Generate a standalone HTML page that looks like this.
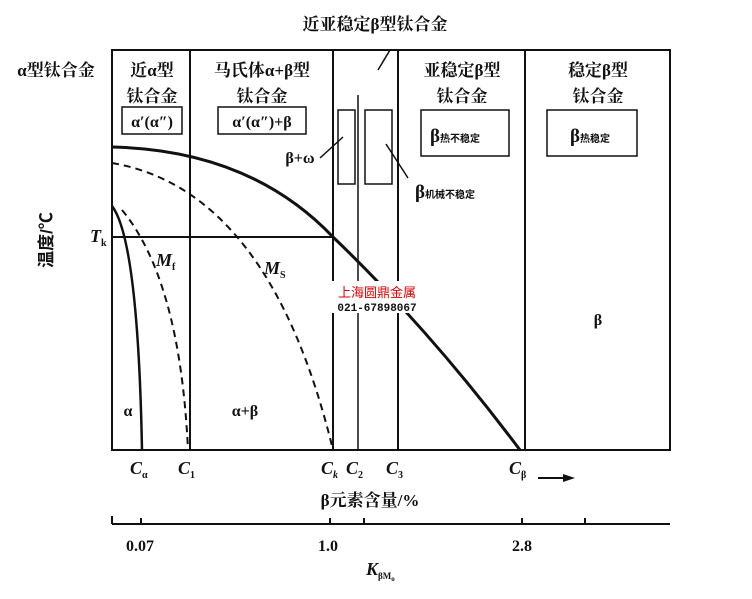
<!DOCTYPE html>
<html><head><meta charset="utf-8"><style>
body{margin:0;background:#fff}
svg text{font-family:"Liberation Serif","Noto Serif CJK SC","Noto Sans CJK SC",serif;fill:#111}
.c{font-family:"Liberation Sans","Noto Sans CJK SC",sans-serif;font-weight:bold}
</style></head><body>
<svg width="752" height="594" viewBox="0 0 752 594" xmlns="http://www.w3.org/2000/svg">
<g stroke="#111" fill="none" stroke-width="2">
<rect x="112" y="50" width="558" height="400"/>
<line x1="190" y1="50" x2="190" y2="450"/>
<line x1="333" y1="50" x2="333" y2="450"/>
<line x1="398" y1="50" x2="398" y2="450"/>
<line x1="525" y1="50" x2="525" y2="450"/>
<line x1="358" y1="95" x2="358" y2="450" stroke-width="1.5"/>
<rect x="338" y="110" width="17" height="74" stroke-width="1.5"/>
<rect x="365" y="110" width="27" height="74" stroke-width="1.5"/>
<rect x="122" y="107" width="60" height="27" stroke-width="1.5"/>
<rect x="218" y="107" width="88" height="27" stroke-width="1.5"/>
<rect x="421" y="110" width="88" height="46" stroke-width="1.5"/>
<rect x="547" y="110" width="90" height="46" stroke-width="1.5"/>
<line x1="112" y1="237" x2="333" y2="237"/>
<path d="M112 147 Q250 150 333 237 Q430 330 520 450" stroke-width="3"/>
<path d="M112 206 Q138 240 142 450" stroke-width="2.5"/>
<path d="M112 163 Q270 190 333 450" stroke-dasharray="7,5"/>
<path d="M122 210 Q180 280 188 450" stroke-dasharray="7,5"/>
<line x1="390" y1="50" x2="378" y2="70" stroke-width="1.5"/>
<line x1="320" y1="158" x2="343" y2="137" stroke-width="1.5"/>
<line x1="386" y1="144" x2="408" y2="178" stroke-width="1.5"/>
<line x1="112" y1="450" x2="670" y2="450"/>
<line x1="112" y1="524" x2="670" y2="524"/>
<line x1="112" y1="516" x2="112" y2="524"/>
<line x1="141" y1="518" x2="141" y2="524"/>
<line x1="330" y1="518" x2="330" y2="524"/>
<line x1="364" y1="518" x2="364" y2="524"/>
<line x1="522" y1="518" x2="522" y2="524"/>
<line x1="585" y1="518" x2="585" y2="524"/>
<line x1="538" y1="478" x2="565" y2="478"/>
</g>
<polygon points="563,474 575,478 563,482" fill="#111"/>
<g class="c" font-size="17" text-anchor="middle">
<text x="56" y="76">α型钛合金</text>
<text x="152" y="76">近α型</text>
<text x="152" y="102">钛合金</text>
<text x="262" y="76">马氏体α+β型</text>
<text x="262" y="102">钛合金</text>
<text x="375" y="30">近亚稳定β型钛合金</text>
<text x="462" y="76">亚稳定β型</text>
<text x="462" y="102">钛合金</text>
<text x="598" y="76">稳定β型</text>
<text x="598" y="102">钛合金</text>
<text x="370" y="506">β元素含量/%</text>
</g>
<g font-size="16" text-anchor="middle" font-weight="bold">
<text x="152" y="127">α′(α″)</text>
<text x="262" y="127">α′(α″)+β</text>
<text x="300" y="163">β+ω</text>
<text x="128" y="416">α</text>
<text x="245" y="416">α+β</text>
<text x="598" y="325">β</text>
<text x="140" y="551">0.07</text>
<text x="328" y="551">1.0</text>
<text x="522" y="551">2.8</text>
</g>
<g font-size="19" font-weight="bold">
<text x="430" y="142">β<tspan font-size="10" class="c">热不稳定</tspan></text>
<text x="570" y="142">β<tspan font-size="10" class="c">热稳定</tspan></text>
<text x="415" y="198">β<tspan font-size="10" class="c">机械不稳定</tspan></text>
</g>
<g font-size="18" font-style="italic" font-weight="bold">
<text x="90" y="242">T<tspan font-size="10" font-style="normal" dy="4">k</tspan></text>
<text x="156" y="266">M<tspan font-size="10" font-style="normal" dy="4">f</tspan></text>
<text x="264" y="274">M<tspan font-size="10" font-style="normal" dy="4">S</tspan></text>
<text x="130" y="474">C<tspan font-size="10" font-style="normal" dy="4">α</tspan></text>
<text x="178" y="474">C<tspan font-size="10" font-style="normal" dy="4">1</tspan></text>
<text x="321" y="474">C<tspan font-size="10" dy="4">k</tspan></text>
<text x="346" y="474">C<tspan font-size="10" font-style="normal" dy="4">2</tspan></text>
<text x="386" y="474">C<tspan font-size="10" font-style="normal" dy="4">3</tspan></text>
<text x="509" y="474">C<tspan font-size="10" font-style="normal" dy="4">β</tspan></text>
<text x="366" y="575">K<tspan font-size="9" font-style="normal" dy="4">βM<tspan font-size="7" dy="2">o</tspan></tspan></text>
</g>
<text class="c" font-size="17" transform="translate(52,240) rotate(-90)" text-anchor="middle">温度/℃</text>
<rect x="332" y="281" width="90" height="32" fill="#fff"/>
<text x="377" y="297" font-size="13" style="fill:#e00000;font-family:'Noto Sans CJK SC',sans-serif" text-anchor="middle">上海圆鼎金属</text>
<text x="377" y="311" font-size="11" font-weight="bold" text-anchor="middle" style="font-family:'Liberation Mono',monospace">021-67898067</text>
</svg>
</body></html>
